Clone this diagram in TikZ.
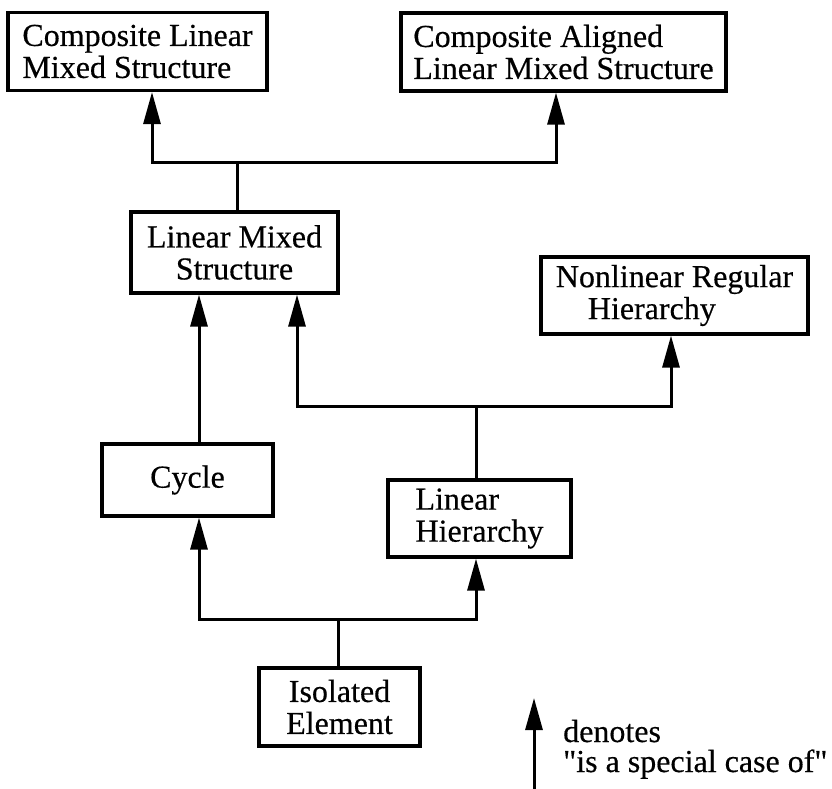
\documentclass[tikz,border=0pt]{standalone}
\usepackage{fontspec}
\setmainfont{Liberation Serif}[Ligatures=TeXOff, FakeBold=0.4]
\usetikzlibrary{arrows.meta}
\begin{document}
\begin{tikzpicture}[x=1pt,y=-1pt,
  box/.style={draw, line width=3.2pt, inner sep=0pt,
    font=\fontsize{32}{32}\selectfont},
  conn/.style={line width=3pt},
  arr/.style={conn, -{Triangle[length=32pt,width=17pt]}}]
\useasboundingbox (0,0) rectangle (832,789);
\fill[white] (0,0) rectangle (832,789);

% classes of structures
\node[box, minimum width=259pt, minimum height=78pt, align=left]
  (clms) at (137.5,51.5) {Composite Linear\\Mixed Structure};
\node[box, minimum width=325pt, minimum height=78pt, align=left]
  (cal) at (563.5,52) {Composite Aligned\\Linear Mixed Structure};
\node[box, minimum width=207pt, minimum height=81pt, align=center]
  (lms) at (234.5,252.5) {Linear Mixed\\Structure};
\node[box, minimum width=267pt, minimum height=77pt, align=left]
  (nrh) at (674.5,295.5) {Nonlinear Regular\\\hspace*{32pt}Hierarchy};
\node[box, minimum width=171pt, minimum height=72pt]
  (cycle) at (187.5,480) {Cycle};
\node[box, minimum width=183pt, minimum height=77pt, align=left]
  (lh) at (479.5,518.5) {Linear\\Hierarchy};
\node[box, minimum width=161pt, minimum height=78pt, align=center]
  (iso) at (339.5,707) {Isolated\\Element};

% branching points
\coordinate (split1) at (237,162);
\coordinate (split2) at (476,406);
\coordinate (split3) at (338,619);

% "is a special case of" links
\draw[conn] ([xshift=2.5pt]lms.north) -- (split1);
\draw[arr] (split1) -| ([xshift=14.5pt]clms.south);
\draw[arr] (split1) -| ([xshift=-7.5pt]cal.south);

\draw[arr] ([xshift=11.5pt]cycle.north) -- ([xshift=-35.5pt]lms.south);

\draw[conn] ([xshift=-3.5pt]lh.north) -- (split2);
\draw[arr] (split2) -| ([xshift=62.5pt]lms.south);
\draw[arr] (split2) -| ([xshift=-3.5pt]nrh.south);

\draw[conn] ([xshift=-1.5pt]iso.north) -- (split3);
\draw[arr] (split3) -| ([xshift=11.5pt]cycle.south);
\draw[arr] (split3) -| ([xshift=-3.5pt]lh.south);

% legend
\coordinate (legfoot) at (534,789);
\coordinate (legtip) at (534,698);
\draw[arr] (legfoot) -- (legtip);
\node[anchor=base west, align=left, inner sep=0pt,
  font=\fontsize{32}{30}\selectfont]
  (legend) at (563,772) {denotes\\"is a special case of"};
\end{tikzpicture}
\end{document}
